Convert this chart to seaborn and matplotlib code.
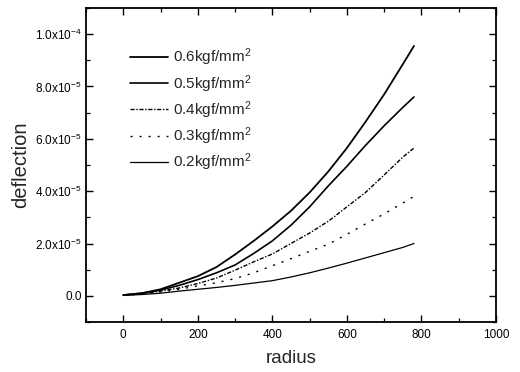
import pandas as pd
import numpy as np
import matplotlib
matplotlib.use("Agg")
import matplotlib.pyplot as plt
import seaborn as sns
from matplotlib.ticker import MultipleLocator, FixedLocator, FixedFormatter

# radius values
radius = [0, 50, 100, 150, 200, 250, 300, 350, 400, 450, 500, 550, 600, 650, 700, 750, 780]

# deflection in units of 1e-5
defl_06 = [0.03, 0.10, 0.25, 0.50, 0.75, 1.10, 1.58, 2.10, 2.65, 3.25, 3.95, 4.75, 5.65, 6.65, 7.70, 8.85, 9.55]
defl_05 = [0.03, 0.10, 0.22, 0.40, 0.62, 0.88, 1.18, 1.62, 2.10, 2.70, 3.40, 4.20, 4.95, 5.75, 6.50, 7.20, 7.60]
defl_04 = [0.02, 0.08, 0.18, 0.30, 0.47, 0.68, 0.98, 1.30, 1.60, 2.00, 2.40, 2.85, 3.40, 3.95, 4.62, 5.30, 5.65]
defl_03 = [0.02, 0.06, 0.15, 0.25, 0.38, 0.50, 0.66, 0.88, 1.15, 1.42, 1.70, 1.97, 2.35, 2.75, 3.13, 3.55, 3.80]
defl_02 = [0.02, 0.05, 0.10, 0.18, 0.25, 0.32, 0.40, 0.49, 0.58, 0.72, 0.88, 1.06, 1.25, 1.45, 1.65, 1.85, 2.00]

labels = ["0.6kgf/mm$^2$", "0.5kgf/mm$^2$", "0.4kgf/mm$^2$", "0.3kgf/mm$^2$", "0.2kgf/mm$^2$"]
series = [defl_06, defl_05, defl_04, defl_03, defl_02]

y_ticks = [0.0, 2e-5, 4e-5, 6e-5, 8e-5, 1e-4]
y_ticklabels = ["0.0", "2.0x10$^{-5}$", "4.0x10$^{-5}$", "6.0x10$^{-5}$", "8.0x10$^{-5}$", "1.0x10$^{-4}$"]

sns.set_style("ticks")
plt.rcParams["font.family"] = ["Liberation Sans", "DejaVu Sans"]
plt.rcParams["mathtext.fontset"] = "custom"
plt.rcParams["mathtext.rm"] = "Liberation Sans"
plt.rcParams["mathtext.it"] = "Liberation Sans"
plt.rcParams["mathtext.bf"] = "Liberation Sans:bold"

fig = plt.figure(figsize=(5.2, 3.72), dpi=100)
ax = fig.add_axes([0.1654, 0.1344, 0.7884, 0.8441])

styles = ["-", "-", (0, (3, 1.2, 1, 1.2)), (0, (1.5, 5)), "-"]
widths = [1.3, 1.2, 1.0, 1.0, 0.9]

for lab, vals, ls, lw in zip(labels, series, styles, widths):
    df = pd.DataFrame({"radius": radius, "deflection": np.array(vals) * 1e-5})
    sns.lineplot(data=df, x="radius", y="deflection", ax=ax, color="black",
                 linestyle=ls, linewidth=lw, label=lab)

ax.set_xlim(-100, 1000)
ax.set_ylim(-1e-5, 1.1e-4)
ax.xaxis.set_major_locator(MultipleLocator(200))
ax.xaxis.set_minor_locator(MultipleLocator(100))
ax.yaxis.set_major_locator(FixedLocator(y_ticks))
ax.yaxis.set_major_formatter(FixedFormatter(y_ticklabels))
ax.yaxis.set_minor_locator(MultipleLocator(1e-5))

ax.tick_params(which="both", direction="in", top=True, right=True, labelsize=8.5, colors="black")
ax.tick_params(which="major", length=5, width=1.0)
ax.tick_params(axis="x", which="major", pad=5)
ax.tick_params(axis="y", which="major", pad=3)
ax.tick_params(which="minor", length=3, width=0.9)
for sp in ax.spines.values():
    sp.set_linewidth(1.3)
    sp.set_color("black")

ax.set_xlabel("radius", fontsize=13.5)
ax.set_ylabel("deflection", fontsize=14.5)
ax.xaxis.set_label_coords(0.5, -0.09)
ax.yaxis.set_label_coords(-0.136, 0.5)

leg = ax.legend(loc="upper left", bbox_to_anchor=(0.073, 0.92), frameon=False,
                fontsize=11, handlelength=2.5, handletextpad=0.33, labelspacing=0.3)

fig.savefig("out.png", dpi=100)
